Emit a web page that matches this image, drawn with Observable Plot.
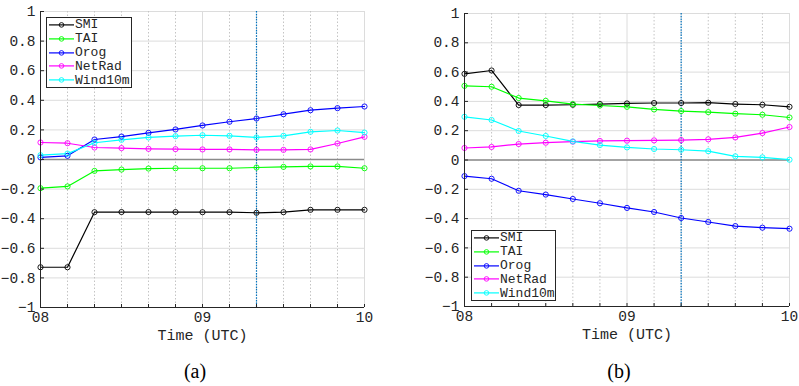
<!DOCTYPE html>
<html><head><meta charset="utf-8">
<script src="https://cdn.jsdelivr.net/npm/d3@7"></script>
<script src="https://cdn.jsdelivr.net/npm/@observablehq/plot@0.6"></script>
<style>
body{margin:0;background:#fff;}
#wrap{position:relative;width:799px;height:386px;overflow:hidden;background:#fff;}
.panel{position:absolute;top:0;}
.legend{position:absolute;border:1px solid #262626;background:#fff;box-sizing:border-box;font:13px "Liberation Mono",monospace;color:#262626;line-height:1;}
.row{display:flex;align-items:center;overflow:hidden;}
.row svg{flex:none;}
.row span{line-height:1;}
.cap{position:absolute;font:20px "Liberation Serif",serif;color:#000;transform:translateX(-50%);line-height:20px;}
</style>
</head><body><div id="wrap"></div>
<script>
const times = ["08:00","08:10","08:20","08:30","08:40","08:50","09:00","09:10","09:20","09:30","09:40","09:50","10:00"];
const series = ["SMI","TAI","Orog","NetRad","Wind10m"];
const colors = ["#000000","#00ff00","#0000ff","#ff00ff","#00ffff"];
const yTicks = [-1,-0.8,-0.6,-0.4,-0.2,0,0.2,0.4,0.6,0.8,1];
const xLabels = ["08","09","10"];
const markerTime = "09:20";
const captions = ["(a)","(b)"];
const xTitle = "Time (UTC)";

// Panel (a)
const smiA    = [-0.728,-0.728,-0.356,-0.355,-0.355,-0.355,-0.356,-0.356,-0.36,-0.356,-0.34,-0.34,-0.34];
const taiA    = [-0.194,-0.182,-0.077,-0.068,-0.061,-0.059,-0.059,-0.059,-0.054,-0.05,-0.047,-0.047,-0.059];
const orogA   = [0.014,0.025,0.135,0.155,0.18,0.203,0.23,0.255,0.277,0.306,0.333,0.347,0.358];
const netRadA = [0.115,0.11,0.081,0.077,0.072,0.07,0.068,0.068,0.065,0.065,0.068,0.108,0.153];
const windA   = [0.029,0.04,0.113,0.133,0.149,0.158,0.164,0.16,0.149,0.16,0.187,0.196,0.182];
// Panel (b)
const smiB    = [0.588,0.611,0.375,0.375,0.377,0.382,0.386,0.389,0.389,0.391,0.382,0.377,0.363];
const taiB    = [0.506,0.5,0.423,0.404,0.382,0.372,0.363,0.345,0.334,0.327,0.316,0.309,0.29];
const orogB   = [-0.11,-0.128,-0.21,-0.236,-0.266,-0.295,-0.327,-0.355,-0.396,-0.423,-0.451,-0.462,-0.469];
const netRadB = [0.082,0.089,0.109,0.118,0.125,0.13,0.132,0.134,0.136,0.141,0.154,0.184,0.225];
const windB   = [0.295,0.273,0.198,0.164,0.127,0.102,0.086,0.075,0.07,0.06,0.025,0.018,0.002];

const parse = d3.utcParse("%H:%M");
const wrap = document.getElementById("wrap");

function panel(vals, o) {
  const data = [];
  series.forEach((s, i) => vals[i].forEach((v, j) => data.push({t: parse(times[j]), s, v})));
  const allTicks = times.map(parse);
  const hourTicks = xLabels.map(h => parse(h + ":00"));
  const minorTicks = allTicks.filter(d => d.getUTCMinutes() !== 0);
  const p = Plot.plot({
    width: o.width, height: 345,
    marginLeft: o.ml, marginRight: o.mr, marginTop: o.mt, marginBottom: 345 - o.bottom,
    x: {type: "utc", domain: [allTicks[0], allTicks[allTicks.length - 1]], label: null},
    y: {domain: [-1, 1], label: null},
    color: {domain: series, range: colors},
    style: {fontFamily: "Liberation Mono, monospace", fontSize: "14.5px", color: "#262626", background: "white", overflow: "visible"},
    marks: [
      Plot.ruleY(yTicks, {stroke: "#dcdcdc", strokeWidth: 1}),
      Plot.ruleX(minorTicks, {stroke: "#c4c4c4", strokeDasharray: "1.5,2"}),
      Plot.ruleX(hourTicks, {stroke: "#dcdcdc"}),
      Plot.ruleY([0], {stroke: "#8a8a8a", strokeWidth: 1.6}),
      Plot.ruleX([parse(markerTime)], {stroke: "#0072bd", strokeDasharray: "1.5,1.2", strokeWidth: 1.2}),
      Plot.line(data, {x: "t", y: "v", z: "s", stroke: "s", strokeWidth: 1.2}),
      Plot.dot(data, {x: "t", y: "v", stroke: "s", r: 2.6, strokeWidth: 0.9}),
      Plot.axisY({ticks: yTicks, tickSize: 0, tickPadding: 5, tickFormat: d3.format("~g"), label: null}),
      Plot.axisY({ticks: yTicks, tickSize: -4, tickFormat: () => "", label: null}),
      Plot.axisX({ticks: hourTicks, tickSize: 0, tickPadding: 4, tickFormat: d3.utcFormat("%H"), label: null}),
      Plot.axisX({ticks: allTicks, tickSize: -3, tickFormat: () => "", label: null}),
      Plot.ruleX([allTicks[0]], {stroke: "#262626"}),
      Plot.ruleY([-1], {stroke: "#262626"}),
      Plot.text([xTitle], {frameAnchor: "bottom", lineAnchor: "middle", dy: 28, fontSize: 15, fill: "#262626"})
    ]
  });
  p.classList.add("panel");
  p.style.left = o.left + "px";
  wrap.appendChild(p);

  const lg = document.createElement("div");
  lg.className = "legend";
  Object.assign(lg.style, {left: o.lg[0] + "px", top: o.lg[1] + "px", width: o.lg[2] + "px", height: o.lg[3] + "px"});
  const rowH = (o.lg[3] - 2) / series.length;
  series.forEach((s, i) => {
    const r = document.createElement("div");
    r.className = "row";
    r.style.height = rowH + "px";
    const sv = d3.create("svg").attr("width", 28).attr("height", rowH);
    sv.append("line").attr("x1", 2).attr("x2", 27).attr("y1", rowH / 2).attr("y2", rowH / 2).attr("stroke", colors[i]).attr("stroke-width", 1.2);
    sv.append("circle").attr("cx", 14.5).attr("cy", rowH / 2).attr("r", 2.3).attr("fill", "none").attr("stroke", colors[i]).attr("stroke-width", 0.9);
    r.appendChild(sv.node());
    const t = document.createElement("span");
    t.textContent = s;
    r.appendChild(t);
    lg.appendChild(r);
  });
  wrap.appendChild(lg);

  const c = document.createElement("div");
  c.className = "cap";
  c.textContent = o.cap;
  c.style.left = o.capX + "px";
  c.style.top = "361px";
  wrap.appendChild(c);
}

panel([smiA, taiA, orogA, netRadA, windA], {width: 400, left: 0, ml: 40, mr: 36, mt: 11, bottom: 307, lg: [46, 17, 86, 71], cap: captions[0], capX: 195});
panel([smiB, taiB, orogB, netRadB, windB], {width: 399, left: 400, ml: 64, mr: 10, mt: 13, bottom: 306, lg: [471, 230, 85, 71], cap: captions[1], capX: 619});
</script>
</body></html>
